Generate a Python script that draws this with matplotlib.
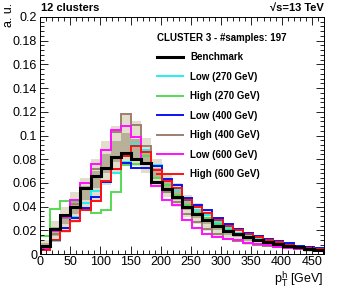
import numpy as np
import matplotlib.pyplot as plt
from matplotlib.lines import Line2D
from matplotlib.ticker import MultipleLocator

plt.rcParams['font.family'] = ['Liberation Sans', 'DejaVu Sans']

# bin edges of the pT histograms (GeV)
edges = np.linspace(0, 470, 29)

# benchmark and shape-benchmark histograms
benchmark = [0.0067, 0.021, 0.033, 0.040, 0.056, 0.066, 0.073, 0.082, 0.085, 0.080,
             0.077, 0.061, 0.055, 0.048, 0.040, 0.034, 0.029, 0.024, 0.019, 0.0165,
             0.014, 0.012, 0.010, 0.0085, 0.007, 0.0055, 0.0045, 0.0035]
low_270 = [0.004, 0.011, 0.022, 0.031, 0.043, 0.053, 0.062, 0.068, 0.078, 0.093,
           0.088, 0.075, 0.062, 0.054, 0.045, 0.037, 0.033, 0.027, 0.022, 0.018,
           0.015, 0.013, 0.011, 0.009, 0.007, 0.006, 0.005, 0.004]
high_270 = [0.015, 0.038, 0.045, 0.045, 0.039, 0.035, 0.037, 0.052, 0.075, 0.076,
            0.083, 0.064, 0.058, 0.050, 0.041, 0.035, 0.030, 0.025, 0.020, 0.017,
            0.014, 0.012, 0.010, 0.008, 0.006, 0.005, 0.004, 0.003]
low_400 = [0.005, 0.012, 0.022, 0.030, 0.039, 0.048, 0.061, 0.072, 0.077, 0.073,
           0.073, 0.074, 0.063, 0.058, 0.047, 0.041, 0.037, 0.030, 0.025, 0.021,
           0.018, 0.015, 0.013, 0.011, 0.009, 0.007, 0.006, 0.005]
high_400 = [0.005, 0.017, 0.030, 0.042, 0.055, 0.072, 0.088, 0.103, 0.118, 0.109,
            0.091, 0.071, 0.052, 0.044, 0.034, 0.027, 0.021, 0.017, 0.013, 0.011,
            0.009, 0.008, 0.007, 0.006, 0.005, 0.004, 0.003, 0.003]
low_600 = [0.005, 0.019, 0.031, 0.046, 0.060, 0.076, 0.088, 0.105, 0.108, 0.099,
           0.077, 0.057, 0.046, 0.041, 0.0285, 0.022, 0.017, 0.014, 0.013, 0.0117,
           0.009, 0.0084, 0.0073, 0.006, 0.005, 0.004, 0.003, 0.003]
high_600 = [0.003, 0.012, 0.019, 0.028, 0.037, 0.045, 0.062, 0.072, 0.083, 0.091,
            0.086, 0.071, 0.062, 0.056, 0.046, 0.040, 0.035, 0.029, 0.024, 0.020,
            0.017, 0.014, 0.012, 0.010, 0.008, 0.006, 0.005, 0.004]

# envelope of the 197 cluster samples (outer and core)
band_lo = [0.003, 0.010, 0.018, 0.026, 0.036, 0.046, 0.058, 0.068, 0.075, 0.074,
           0.068, 0.058, 0.048, 0.040, 0.031, 0.025, 0.019, 0.015, 0.012, 0.010,
           0.008, 0.007, 0.006, 0.005, 0.004, 0.003, 0.002, 0.002]
band_hi = [0.012, 0.028, 0.040, 0.052, 0.064, 0.080, 0.095, 0.108, 0.118, 0.112,
           0.098, 0.080, 0.068, 0.060, 0.050, 0.043, 0.037, 0.031, 0.026, 0.022,
           0.018, 0.015, 0.013, 0.011, 0.009, 0.007, 0.006, 0.005]
core_lo = [0.005, 0.015, 0.025, 0.034, 0.046, 0.056, 0.068, 0.078, 0.083, 0.080,
           0.076, 0.063, 0.054, 0.046, 0.037, 0.030, 0.025, 0.020, 0.016, 0.014,
           0.011, 0.010, 0.008, 0.007, 0.006, 0.005, 0.004, 0.003]
core_hi = [0.009, 0.023, 0.034, 0.045, 0.057, 0.070, 0.084, 0.095, 0.102, 0.097,
           0.088, 0.073, 0.062, 0.054, 0.044, 0.037, 0.031, 0.026, 0.021, 0.018,
           0.015, 0.013, 0.011, 0.009, 0.008, 0.006, 0.005, 0.004]

series = [
    ('Low (270 GeV)', low_270, '#22f0f0'),
    ('High (270 GeV)', high_270, '#55d955'),
    ('Low (400 GeV)', low_400, '#0a14f0'),
    ('High (400 GeV)', high_400, '#9c8070'),
    ('Low (600 GeV)', low_600, '#ff10ff'),
    ('High (600 GeV)', high_600, '#ff1010'),
]

fig = plt.figure(figsize=(3.41, 2.88), dpi=100)
ax = fig.add_axes([0.117, 0.118, 0.833, 0.823])

ax.stairs(band_hi, edges, baseline=band_lo, fill=True, color='#e2ddcc', lw=0)
ax.stairs(core_hi, edges, baseline=core_lo, fill=True, color='#b8b098', lw=0)

for name, vals, col in series:
    ax.stairs(vals, edges, color=col, lw=1.4)
ax.stairs(benchmark, edges, color='black', lw=2.2)

ax.set_xlim(0, 470)
ax.set_ylim(0, 0.2)
ax.xaxis.set_major_locator(MultipleLocator(50))
ax.xaxis.set_minor_locator(MultipleLocator(10))
ax.yaxis.set_major_locator(MultipleLocator(0.02))
ax.yaxis.set_minor_locator(MultipleLocator(0.004))
ax.tick_params(which='both', direction='in', top=True, right=True, labelsize=9, pad=2)
ax.tick_params(axis='x', pad=1.5)
ax.tick_params(which='major', length=6, width=0.6)
ax.tick_params(which='minor', length=3, width=0.6)
ax.set_yticks(np.arange(0, 0.201, 0.02))
ax.set_yticklabels(['0', '0.02', '0.04', '0.06', '0.08', '0.1', '0.12', '0.14', '0.16', '0.18', '0.2'])
for s in ax.spines.values():
    s.set_linewidth(0.7)

fig.text(0.027, 0.99, 'a. u.', fontsize=9, rotation=90, va='top', ha='center')
fig.text(0.95, 0.017, r'p$_{\mathrm{T}}^{\mathrm{h}}$ [GeV]', fontsize=9, ha='right', va='baseline')

fig.text(0.12, 0.955, '12 clusters', fontsize=8, fontweight='bold', va='bottom', ha='left')
fig.text(0.95, 0.955, '\u221as=13 TeV', fontsize=8, fontweight='bold', va='bottom', ha='right')

handles = [Line2D([], [], color='black', lw=2.2)]
labels = ['Benchmark']
for name, vals, col in series:
    handles.append(Line2D([], [], color=col, lw=1.4))
    labels.append(name)
leg = ax.legend(handles, labels, title='CLUSTER 3 - #samples: 197', loc='upper left',
                bbox_to_anchor=(0.40, 0.95), frameon=False, alignment='left',
                prop={'size': 7, 'weight': 'bold'}, handlelength=2.6,
                labelspacing=0.98, borderaxespad=0, handletextpad=0.8)
leg.get_title().set_fontsize(7)
leg.get_title().set_fontweight('bold')

fig.savefig('out.png', dpi=100)
